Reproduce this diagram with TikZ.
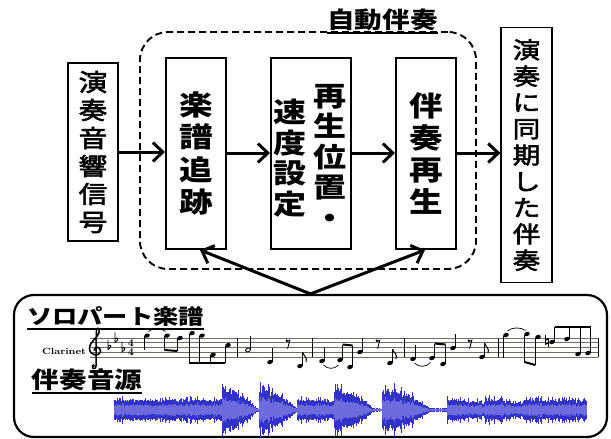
\documentclass[tikz,border=0pt]{standalone}
\usepackage{fontspec}
\newfontfamily\jp{Noto Sans CJK JP}[FakeStretch=1.2]
\newfontfamily\jpm{Noto Sans CJK JP}[FakeStretch=1.2, FakeBold=2.5]
\usetikzlibrary{arrows.meta}
\definecolor{wdark}{RGB}{50,50,202}
\definecolor{wlight}{RGB}{108,108,222}
\definecolor{staffc}{RGB}{115,108,98}
\newcommand\headat[2]{\fill[rotate around={20:(#1,#2)}] (#1,#2) ellipse (2.9pt and 2.1pt);}
\newcommand\hollowat[2]{\draw[line width=0.9pt,rotate around={20:(#1,#2)}] (#1,#2) ellipse (2.6pt and 1.8pt);}
\newcommand\stemup[3]{\draw[stemline] (#1+2.6,#2) -- (#1+2.6,#3);}
\newcommand\stemdn[3]{\draw[stemline] (#1-2.6,#2) -- (#1-2.6,#3);}
\newcommand\erest[1]{\fill (#1-1.3,340.6) circle (1.2pt); \draw[line width=0.9pt] (#1-1.6,341.6) -- (#1+1.8,340.2) -- (#1-0.4,348.6);}
\newcommand\flagup[2]{\draw[line width=1pt] (#1,#2) .. controls (#1+1,#2+4) and (#1+5,#2+5) .. (#1+3.5,#2+10);}
\newcommand\flatat[2]{\draw[line width=0.9pt] (#1,#2-8) -- (#1,#2+2) .. controls (#1+4,#2-0.5) and (#1+3.5,#2-4) .. (#1,#2-1.5);}
\newcommand\barat[1]{\draw[line width=0.9pt] (#1,338) -- (#1,357.2);}
\newcommand\wavepass[1]{%
  \pgfmathsetseed{4321}%
  \foreach \xa/\xb/\aa/\ab in {114/222/11/11, 222/257/21/1.5, 257/259/1.8/1.8, 259/297/21/1.5, 297/334/11/10, 334/373/21/1.5, 373/382/1.8/1.8, 382/430/21/1.5, 430/447/1.8/1.8, 447/485/11/8, 485/523/12/6, 523/587/11/10}{%
    \pgfmathtruncatemacro\wn{(\xb-\xa)/0.6}%
    \foreach \wi in {0,...,\wn}{%
      \pgfmathsetmacro\wx{\xa+0.6*\wi}%
      \pgfmathsetmacro\wt{\wi/\wn}%
      \pgfmathsetmacro\wam{(\aa+(\ab-\aa)*\wt*\wt)*(0.7+0.25*rnd+0.45*rnd^4)}%
      \pgfmathsetmacro\wai{\wam*(0.42+0.12*rnd)}%
      \ifnum#1=0
        \draw[wdark,line width=0.75pt] (\wx,410-\wam) -- (\wx,410+\wam);
      \else
        \draw[wlight,line width=0.75pt] (\wx,410-\wai) -- (\wx,410+\wai);
      \fi
    }%
  }%
}
\tikzset{
  iobox/.style={draw, line width=1.2pt, inner sep=0pt, align=center, font=\jpm\fontsize{24}{28}\selectfont},
  procbox/.style={draw, line width=2pt, inner sep=0pt, minimum width=60pt, minimum height=191pt, align=center, font=\jp\bfseries\fontsize{28}{32.3}\selectfont},
  coltext/.style={inner sep=0pt, align=center, font=\jp\bfseries\fontsize{27.5}{30.5}\selectfont},
  flow/.style={line width=3pt, -{Straight Barb[length=10pt,width=19pt]}},
  heading/.style={inner sep=0pt, font=\jp\bfseries\fontsize{23}{23}\selectfont},
  uline/.style={line width=2pt},
  stemline/.style={line width=0.8pt},
  staffline/.style={staffc, line width=0.9pt},
}
\begin{document}
\begin{tikzpicture}[x=1pt,y=-1pt]
\useasboundingbox (0,0) rectangle (611,439);
% automatic accompaniment group
\node[draw, dashed, dash pattern=on 7pt off 4pt, line width=1.9pt, rounded corners=28pt, minimum width=336pt, minimum height=237pt, inner sep=0pt] (auto) at (308,150.5) {};
\node[heading] (ttl) at (382.5,20) {自動伴奏};
\draw[uline] ([yshift=-2pt]ttl.south west) -- ([yshift=-2pt]ttl.south east);
% boxes
\node[iobox, minimum width=50pt, minimum height=178pt] (inp) at (93,152) {演\\奏\\音\\響\\信\\号};
\node[procbox] (trk) at (196,153.5) {楽\\譜\\追\\跡};
\node[procbox, minimum width=80pt] (pos) at (311,153.5) {};
\node[coltext] (posl) at (290,158) {速\\度\\設\\定};
\node[coltext] (posr) at (330,156) {再\\生\\位\\置\\・};
\node[procbox] (acc) at (426,153.5) {伴\\奏\\再\\生};
\node[iobox, minimum width=51pt, minimum height=255pt, font=\jpm\fontsize{23}{26.3}\selectfont] (out) at (526.5,155) {演\\奏\\に\\同\\期\\し\\た\\伴\\奏};
% flow arrows
\draw[flow] (inp.east) -- (inp.east -| trk.west);
\draw[flow] (trk.east |- 0,153) -- (pos.west |- 0,153);
\draw[flow] (pos.east |- 0,153) -- (acc.west |- 0,153);
\draw[flow] (acc.east |- 0,153) -- (out.west |- 0,153);
% source box
\node[draw, line width=2.2pt, rounded corners=20pt, minimum width=593pt, minimum height=142pt, inner sep=0pt] (src) at (310.5,366) {};
\draw[line width=3pt, line join=round, {Straight Barb[length=10pt,width=19pt]}-{Straight Barb[length=10pt,width=19pt]}] ([xshift=4pt]trk.south) -- (src.north) -- ([xshift=-1pt]acc.south);
\node[heading, font=\jp\bfseries\fontsize{21}{21}\selectfont] (solo) at (115.5,316.5) {ソロパート楽譜};
\draw[uline] ([yshift=-2pt]solo.south west) -- ([yshift=-2pt]solo.south east);
\node[heading] (accsrc) at (87,380) {伴奏音源};
\draw[uline] ([yshift=-1.5pt]accsrc.south west) -- ([yshift=-1.5pt]accsrc.south east);
% score
\node[inner sep=0pt, font=\bfseries\fontsize{9}{9}\selectfont, xscale=1.15, transform shape] (clar) at (64,351) {Clarinet};
\foreach \k in {0,...,4} \draw[staffline] (90,338+4.8*\k) -- (598,338+4.8*\k);
\draw[line width=1.5pt] (94,350.5) .. controls (94.5,345.5) and (101,346.5) .. (100.5,351.5) .. controls (100,357) and (89.5,356) .. (89.5,348.5) .. controls (89.5,341) and (99,337) .. (99.2,332) .. controls (99.4,327.5) and (96.8,327) .. (96.3,331) -- (96,366) .. controls (95.9,369.5) and (92,369.5) .. (92.3,366);
\fill (93.3,365.8) circle (1.8pt);
\flatat{108}{347.6}\flatat{115}{340.4}\flatat{122}{350}
\node[inner sep=0pt, font=\bfseries\fontsize{10.5}{10}\selectfont] (tsa) at (131,342.8) {4};
\node[inner sep=0pt, font=\bfseries\fontsize{10.5}{10}\selectfont] (tsb) at (131,352.4) {4};
% measure 1
\headat{147}{335.6}\stemdn{147}{336}{350}
\draw[line width=0.7pt] (148.5,331.5) .. controls (153,327.5) and (161,327.5) .. (165.5,331.5);
\headat{167}{335.6}\headat{180}{338}
\stemdn{167}{336}{350}\stemdn{180}{338.5}{351}
\draw[line width=2pt] (164.4,350) -- (177.4,351);
\headat{192}{333.2}\headat{202}{335.6}\headat{213}{354.8}\headat{228}{345.2}
\stemdn{192}{333.5}{363}\stemdn{202}{336}{363}\stemdn{213}{355}{363}\stemdn{228}{345.5}{363}
\draw[line width=2pt] (189.4,363) -- (225.4,363);
\barat{237}
% measure 2
\hollowat{248}{350}\stemup{248}{349.5}{336}
\headat{270}{362}\stemup{270}{361.5}{348}
\erest{288}
\headat{300}{366}\stemup{300}{365.5}{352}\flagup{302.6}{352}
\barat{312}
% measure 3
\headat{322}{361}\stemup{322}{360.5}{347}
\draw[line width=0.7pt] (323.5,365) .. controls (328,369.5) and (334,369.5) .. (338.5,365);
\headat{340}{360}\headat{350}{367}
\stemup{340}{359.5}{344.5}\stemup{350}{366.5}{345.5}
\draw[line width=2pt] (342.6,344.5) -- (352.6,345.5);
\headat{360}{352}\stemup{360}{351.5}{338}
\erest{378}
\headat{390}{363}\stemup{390}{362.5}{349}\flagup{392.6}{349}
\barat{404}
% measure 4
\headat{413}{359}\stemup{413}{358.5}{345}
\draw[line width=0.7pt] (414.5,363) .. controls (419,367.5) and (426,367.5) .. (430.5,362.5);
\headat{432}{358}\headat{443}{364}
\stemup{432}{357.5}{343.5}\stemup{443}{363.5}{344.5}
\draw[line width=2pt] (434.6,343.5) -- (445.6,344.5);
\headat{453}{348}\stemup{453}{347.5}{334}
\erest{470}
\headat{482}{357}\stemup{482}{356.5}{343}\flagup{484.6}{343}
\barat{498}
% measure 5
\headat{506}{335}\stemdn{506}{335.5}{358}
\draw[line width=0.7pt] (507.5,331) .. controls (512,327) and (521,327) .. (525.5,330.5);
\headat{527}{334}\headat{538}{337}
\stemdn{527}{334.5}{362}\stemdn{538}{337.5}{365}
\draw[line width=2pt] (524.4,362) -- (535.4,365);
\draw[line width=0.8pt] (545.5,335) -- (545.5,344.5) (548.5,337.5) -- (548.5,347);
\draw[line width=1.4pt] (545.5,340) -- (548.5,339) (545.5,344) -- (548.5,343);
\headat{552}{342}\headat{567}{339}\headat{578}{354}\headat{588}{353}
\stemup{552}{341.5}{327}\stemup{567}{338.5}{327}\stemup{578}{353.5}{327}\stemup{588}{352.5}{327}
\draw[line width=2pt] (554.6,327) -- (590.6,327);
\barat{598}
% waveform
\wavepass{0}
\wavepass{1}
\end{tikzpicture}
\end{document}
